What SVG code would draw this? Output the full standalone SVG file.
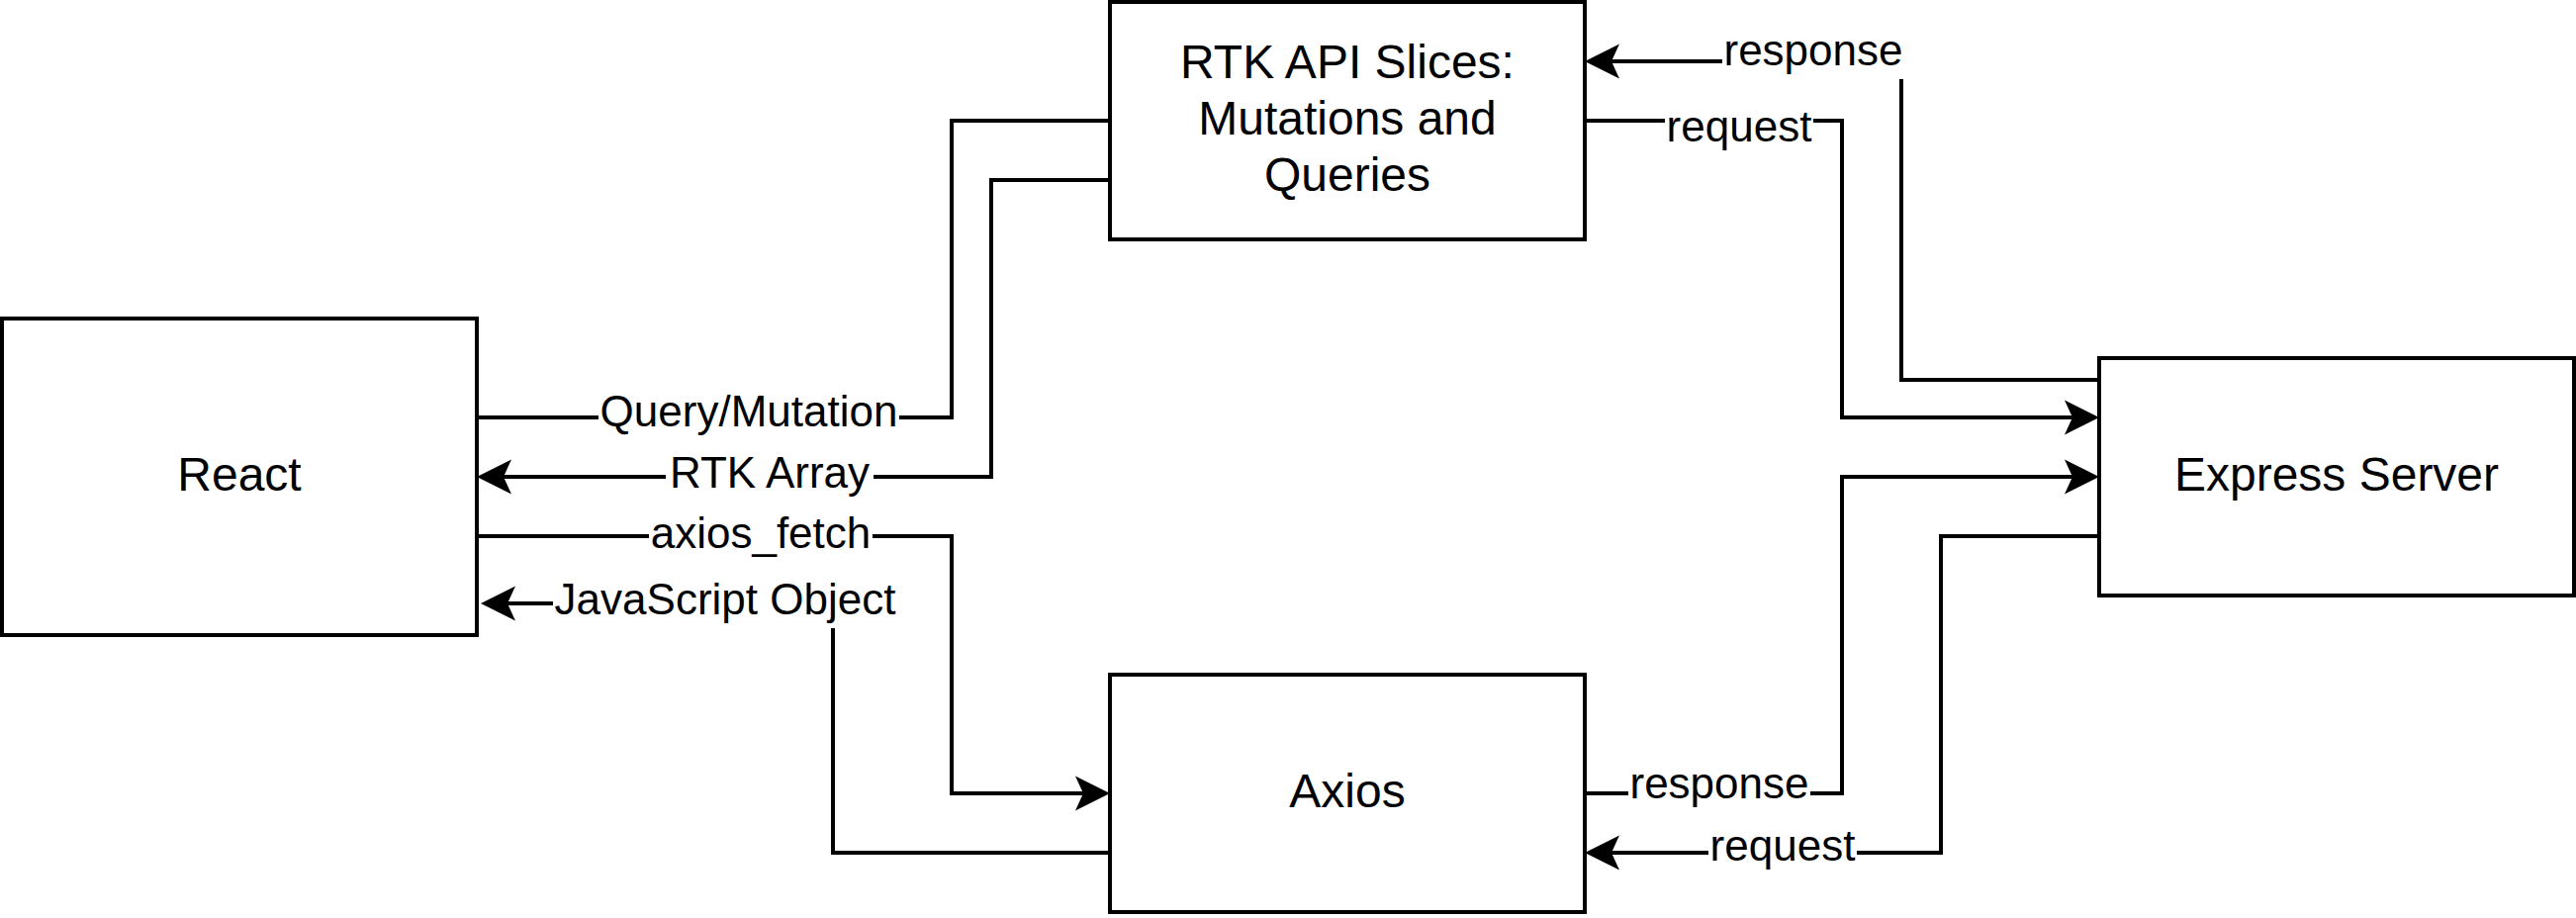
<svg xmlns="http://www.w3.org/2000/svg" width="2604" height="928" viewBox="0 0 2604 928">
<style>
.box{fill:#fff;stroke:#000;stroke-width:4}
.node{font-family:"Liberation Sans",Arial,sans-serif;font-size:48px;fill:#000;text-anchor:middle}
.edge{fill:none;stroke:#000;stroke-width:4;stroke-linejoin:miter}
.lbg{fill:#fff;stroke:none}
.lbl{font-family:"Liberation Sans",Arial,sans-serif;font-size:44px;fill:#000;text-anchor:middle}
</style>
<defs>
<marker id="arr" markerUnits="userSpaceOnUse" markerWidth="80" markerHeight="80" viewBox="-40 -40 80 80" refX="0" refY="0" orient="auto" overflow="visible">
<path d="M27,0 L-8,-17.5 L0,0 L-8,17.5 Z" fill="#000"/>
</marker>
</defs>
<rect width="2604" height="928" fill="#fff"/>
<g id="connectors">
<path class="edge" d="M482,422 H962 V122 H1122"/>
<path class="edge" d="M1122,182 H1002 V482 H509" marker-end="url(#arr)"/>
<path class="edge" d="M482,542 H962 V802 H1095" marker-end="url(#arr)"/>
<path class="edge" d="M1122,862 H842 V610 H513" marker-end="url(#arr)"/>
<path class="edge" d="M1602,122 H1862 V422 H2095" marker-end="url(#arr)"/>
<path class="edge" d="M2122,384 H1922 V62 H1629" marker-end="url(#arr)"/>
<path class="edge" d="M1602,802 H1862 V482 H2095" marker-end="url(#arr)"/>
<path class="edge" d="M2122,542 H1962 V862 H1629" marker-end="url(#arr)"/>
<g id="edge-labels">
<rect class="lbg" x="605" y="393" width="304" height="52"/>
<text class="lbl" x="757" y="431">Query/Mutation</text>
<rect class="lbg" x="673" y="455" width="210" height="52"/>
<text class="lbl" x="778" y="493">RTK Array</text>
<rect class="lbg" x="656" y="516" width="226" height="52"/>
<text class="lbl" x="769" y="554">axios_fetch</text>
<rect class="lbg" x="559" y="583" width="348" height="52"/>
<text class="lbl" x="733" y="621">JavaScript Object</text>
<rect class="lbg" x="1683" y="105" width="150" height="52"/>
<text class="lbl" x="1758" y="143">request</text>
<rect class="lbg" x="1741" y="28" width="184" height="52"/>
<text class="lbl" x="1833" y="66">response</text>
<rect class="lbg" x="1646" y="769" width="184" height="52"/>
<text class="lbl" x="1738" y="807">response</text>
<rect class="lbg" x="1727" y="832" width="150" height="52"/>
<text class="lbl" x="1802" y="870">request</text>
</g>
</g>
<g id="react">
<rect class="box" x="2" y="322" width="480" height="320"/>
<text class="node" x="242" y="496">React</text>
</g>
<g id="rtk">
<rect class="box" x="1122" y="2" width="480" height="240"/>
<text class="node" x="1362" y="79">RTK API Slices:</text>
<text class="node" x="1362" y="136">Mutations and</text>
<text class="node" x="1362" y="193">Queries</text>
</g>
<g id="axios">
<rect class="box" x="1122" y="682" width="480" height="240"/>
<text class="node" x="1362" y="816">Axios</text>
</g>
<g id="express">
<rect class="box" x="2122" y="362" width="480" height="240"/>
<text class="node" x="2362" y="496">Express Server</text>
</g>
</svg>
